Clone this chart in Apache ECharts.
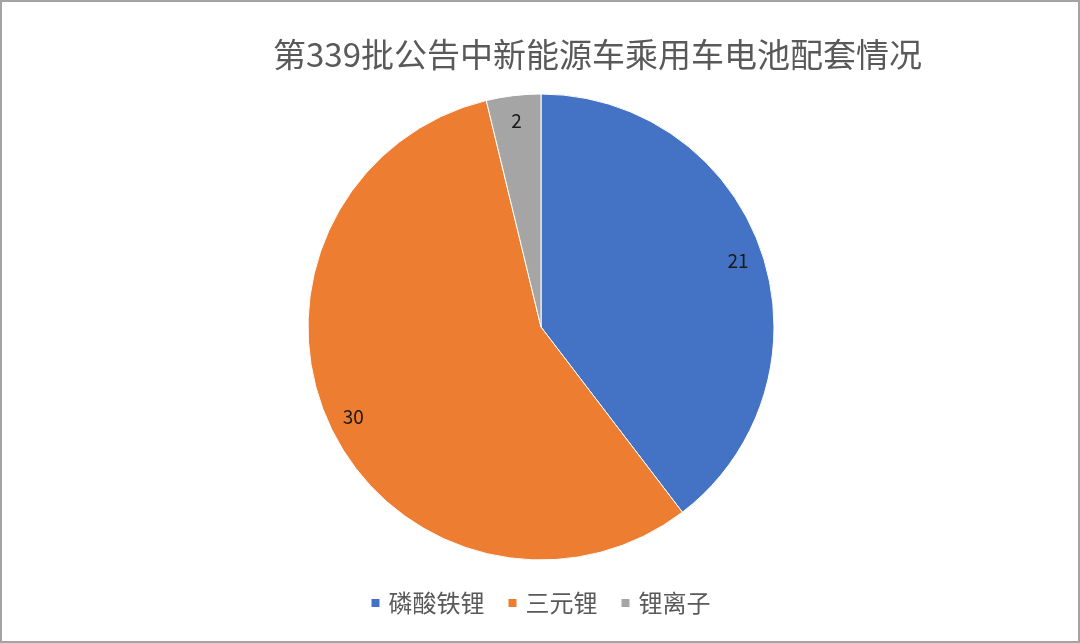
<!DOCTYPE html>
<html>
<head>
<meta charset="utf-8">
<script src="https://cdn.jsdelivr.net/npm/echarts@6/dist/echarts.min.js"></script>
<style>
  html, body { margin: 0; padding: 0; background: #fff; }
  #chart { width: 1080px; height: 643px; box-sizing: border-box; border: 2px solid #a3a3a3; }
</style>
</head>
<body>
<div id="chart"></div>
<script>
var titleText = '第339批公告中新能源车乘用车电池配套情况';
var categories = ['磷酸铁锂', '三元锂', '锂离子'];
var values = [21, 30, 2];
var colors = ['#4472C4', '#ED7D31', '#A5A5A5'];

(function() {
  var font = '"Noto Sans CJK SC", "Noto Sans", sans-serif';
  var pieData = categories.map(function(name, i) {
    return { name: name, value: values[i], itemStyle: { color: colors[i] } };
  });

  var chart = echarts.init(document.getElementById('chart'), null, { renderer: 'canvas' });
  chart.setOption({
    animation: false,
    title: {
      text: titleText,
      left: 266,
      top: 31,
      textStyle: { color: '#595959', fontSize: 33, fontWeight: 'normal', fontFamily: font }
    },
    legend: {
      data: categories,
      bottom: 21,
      left: 'center',
      itemWidth: 10,
      itemHeight: 10,
      itemGap: 22,
      icon: 'rect',
      textStyle: { color: '#595959', fontSize: 24, fontFamily: font, padding: [0, 0, 0, 3] }
    },
    series: [
      {
        type: 'pie',
        center: [539, 325],
        radius: [0, 233],
        startAngle: 90,
        clockwise: true,
        data: pieData,
        label: { show: false },
        labelLine: { show: false },
        itemStyle: { borderColor: '#fff', borderWidth: 1 },
        emphasis: { scale: false }
      },
      {
        // transparent ring that only carries the value labels
        type: 'pie',
        center: [539, 325],
        radius: [177, 233],
        startAngle: 90,
        clockwise: true,
        silent: true,
        legendHoverLink: false,
        data: categories.map(function(name, i) {
          return { name: name, value: values[i], itemStyle: { color: 'transparent' } };
        }),
        label: {
          show: true,
          position: 'inside',
          formatter: '{c}',
          color: '#1a1a1a',
          fontSize: 19,
          fontFamily: font
        },
        labelLine: { show: false }
      }
    ]
  });
  window.addEventListener('resize', function() { chart.resize(); });
})();
</script>
</body>
</html>
